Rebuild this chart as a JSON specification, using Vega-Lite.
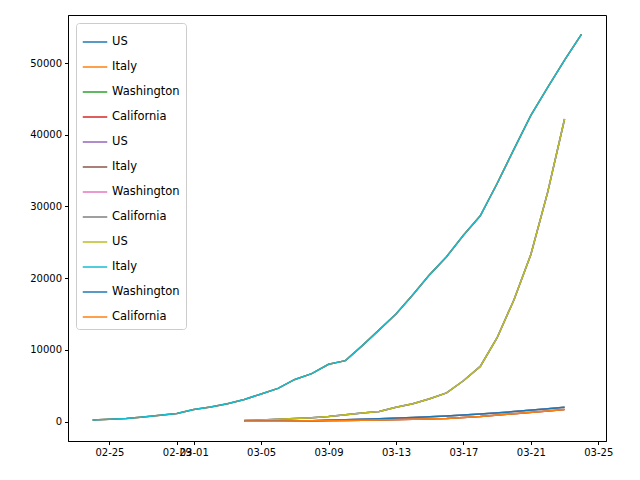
{
  "$schema": "https://vega.github.io/schema/vega-lite/v6.json",
  "width": 538,
  "height": 426,
  "autosize": "none",
  "padding": {"left": 68, "top": 15, "right": 34, "bottom": 39},
  "background": "white",
  "config": {
    "view": {"stroke": "black", "strokeWidth": 1},
    "font": "DejaVu Sans",
    "axis": {"grid": false, "domainColor": "black", "tickColor": "black", "labelColor": "black", "labelFontSize": 10, "tickSize": 3.5, "labelPadding": 3, "title": null}
  },
  "data": {
    "values": [
      {"country": "Italy", "k": ["b","f","j"], "date": "2020-02-24", "cases": 229},
      {"country": "Italy", "k": ["b","f","j"], "date": "2020-02-25", "cases": 322},
      {"country": "Italy", "k": ["b","f","j"], "date": "2020-02-26", "cases": 453},
      {"country": "Italy", "k": ["b","f","j"], "date": "2020-02-27", "cases": 655},
      {"country": "Italy", "k": ["b","f","j"], "date": "2020-02-28", "cases": 888},
      {"country": "Italy", "k": ["b","f","j"], "date": "2020-02-29", "cases": 1128},
      {"country": "Italy", "k": ["b","f","j"], "date": "2020-03-01", "cases": 1694},
      {"country": "Italy", "k": ["b","f","j"], "date": "2020-03-02", "cases": 2036},
      {"country": "Italy", "k": ["b","f","j"], "date": "2020-03-03", "cases": 2502},
      {"country": "Italy", "k": ["b","f","j"], "date": "2020-03-04", "cases": 3089},
      {"country": "Italy", "k": ["b","f","j"], "date": "2020-03-05", "cases": 3858},
      {"country": "Italy", "k": ["b","f","j"], "date": "2020-03-06", "cases": 4636},
      {"country": "Italy", "k": ["b","f","j"], "date": "2020-03-07", "cases": 5883},
      {"country": "Italy", "k": ["b","f","j"], "date": "2020-03-08", "cases": 6700},
      {"country": "Italy", "k": ["b","f","j"], "date": "2020-03-09", "cases": 8000},
      {"country": "Italy", "k": ["b","f","j"], "date": "2020-03-10", "cases": 8500},
      {"country": "Italy", "k": ["b","f","j"], "date": "2020-03-11", "cases": 10600},
      {"country": "Italy", "k": ["b","f","j"], "date": "2020-03-12", "cases": 12800},
      {"country": "Italy", "k": ["b","f","j"], "date": "2020-03-13", "cases": 15000},
      {"country": "Italy", "k": ["b","f","j"], "date": "2020-03-14", "cases": 17700},
      {"country": "Italy", "k": ["b","f","j"], "date": "2020-03-15", "cases": 20500},
      {"country": "Italy", "k": ["b","f","j"], "date": "2020-03-16", "cases": 23000},
      {"country": "Italy", "k": ["b","f","j"], "date": "2020-03-17", "cases": 26000},
      {"country": "Italy", "k": ["b","f","j"], "date": "2020-03-18", "cases": 28700},
      {"country": "Italy", "k": ["b","f","j"], "date": "2020-03-19", "cases": 33200},
      {"country": "Italy", "k": ["b","f","j"], "date": "2020-03-20", "cases": 38000},
      {"country": "Italy", "k": ["b","f","j"], "date": "2020-03-21", "cases": 42700},
      {"country": "Italy", "k": ["b","f","j"], "date": "2020-03-22", "cases": 46600},
      {"country": "Italy", "k": ["b","f","j"], "date": "2020-03-23", "cases": 50400},
      {"country": "Italy", "k": ["b","f","j"], "date": "2020-03-24", "cases": 54000},

      {"country": "US", "k": ["a","e","i"], "date": "2020-03-04", "cases": 150},
      {"country": "US", "k": ["a","e","i"], "date": "2020-03-05", "cases": 220},
      {"country": "US", "k": ["a","e","i"], "date": "2020-03-06", "cases": 320},
      {"country": "US", "k": ["a","e","i"], "date": "2020-03-07", "cases": 440},
      {"country": "US", "k": ["a","e","i"], "date": "2020-03-08", "cases": 540},
      {"country": "US", "k": ["a","e","i"], "date": "2020-03-09", "cases": 700},
      {"country": "US", "k": ["a","e","i"], "date": "2020-03-10", "cases": 950},
      {"country": "US", "k": ["a","e","i"], "date": "2020-03-11", "cases": 1200},
      {"country": "US", "k": ["a","e","i"], "date": "2020-03-12", "cases": 1400},
      {"country": "US", "k": ["a","e","i"], "date": "2020-03-13", "cases": 2000},
      {"country": "US", "k": ["a","e","i"], "date": "2020-03-14", "cases": 2500},
      {"country": "US", "k": ["a","e","i"], "date": "2020-03-15", "cases": 3200},
      {"country": "US", "k": ["a","e","i"], "date": "2020-03-16", "cases": 4000},
      {"country": "US", "k": ["a","e","i"], "date": "2020-03-17", "cases": 5700},
      {"country": "US", "k": ["a","e","i"], "date": "2020-03-18", "cases": 7700},
      {"country": "US", "k": ["a","e","i"], "date": "2020-03-19", "cases": 11700},
      {"country": "US", "k": ["a","e","i"], "date": "2020-03-20", "cases": 17000},
      {"country": "US", "k": ["a","e","i"], "date": "2020-03-21", "cases": 23300},
      {"country": "US", "k": ["a","e","i"], "date": "2020-03-22", "cases": 32000},
      {"country": "US", "k": ["a","e","i"], "date": "2020-03-23", "cases": 42200},

      {"country": "Washington", "k": ["c","g","k"], "date": "2020-03-04", "cases": 40},
      {"country": "Washington", "k": ["c","g","k"], "date": "2020-03-06", "cases": 80},
      {"country": "Washington", "k": ["c","g","k"], "date": "2020-03-08", "cases": 120},
      {"country": "Washington", "k": ["c","g","k"], "date": "2020-03-10", "cases": 270},
      {"country": "Washington", "k": ["c","g","k"], "date": "2020-03-12", "cases": 400},
      {"country": "Washington", "k": ["c","g","k"], "date": "2020-03-14", "cases": 570},
      {"country": "Washington", "k": ["c","g","k"], "date": "2020-03-16", "cases": 770},
      {"country": "Washington", "k": ["c","g","k"], "date": "2020-03-18", "cases": 1050},
      {"country": "Washington", "k": ["c","g","k"], "date": "2020-03-20", "cases": 1400},
      {"country": "Washington", "k": ["c","g","k"], "date": "2020-03-22", "cases": 1800},
      {"country": "Washington", "k": ["c","g","k"], "date": "2020-03-23", "cases": 2000},

      {"country": "California", "k": ["d","h","l"], "date": "2020-03-04", "cases": 50},
      {"country": "California", "k": ["d","h","l"], "date": "2020-03-06", "cases": 60},
      {"country": "California", "k": ["d","h","l"], "date": "2020-03-08", "cases": 110},
      {"country": "California", "k": ["d","h","l"], "date": "2020-03-10", "cases": 150},
      {"country": "California", "k": ["d","h","l"], "date": "2020-03-12", "cases": 220},
      {"country": "California", "k": ["d","h","l"], "date": "2020-03-14", "cases": 330},
      {"country": "California", "k": ["d","h","l"], "date": "2020-03-16", "cases": 450},
      {"country": "California", "k": ["d","h","l"], "date": "2020-03-18", "cases": 700},
      {"country": "California", "k": ["d","h","l"], "date": "2020-03-20", "cases": 1100},
      {"country": "California", "k": ["d","h","l"], "date": "2020-03-22", "cases": 1500},
      {"country": "California", "k": ["d","h","l"], "date": "2020-03-23", "cases": 1700}
    ]
  },
  "transform": [{"flatten": ["k"]}],
  "mark": {"type": "line", "strokeWidth": 1.5},
  "encoding": {
    "x": {
      "field": "date", "type": "temporal",
      "scale": {"type": "utc", "domain": [{"year": 2020, "month": 2, "date": 22, "hours": 13, "utc": true}, {"year": 2020, "month": 3, "date": 25, "hours": 11, "utc": true}]},
      "axis": {
        "labelExpr": "utcFormat(datum.value, '%m-%d')", "labelFlush": false, "labelOverlap": false,
        "values": [
          {"year": 2020, "month": 2, "date": 25, "utc": true},
          {"year": 2020, "month": 2, "date": 29, "utc": true},
          {"year": 2020, "month": 3, "date": 1, "utc": true},
          {"year": 2020, "month": 3, "date": 5, "utc": true},
          {"year": 2020, "month": 3, "date": 9, "utc": true},
          {"year": 2020, "month": 3, "date": 13, "utc": true},
          {"year": 2020, "month": 3, "date": 17, "utc": true},
          {"year": 2020, "month": 3, "date": 21, "utc": true},
          {"year": 2020, "month": 3, "date": 25, "utc": true}
        ]
      }
    },
    "y": {
      "field": "cases", "type": "quantitative",
      "scale": {"domain": [-2700, 56700], "nice": false, "zero": false},
      "axis": {"values": [0, 10000, 20000, 30000, 40000, 50000], "format": "d"}
    },
    "color": {
      "field": "k", "type": "nominal",
      "scale": {
        "domain": ["a","b","c","d","e","f","g","h","i","j","k","l"],
        "range": ["#1f77b4","#ff7f0e","#2ca02c","#d62728","#9467bd","#8c564b","#e377c2","#7f7f7f","#bcbd22","#17becf","#1f77b4","#ff7f0e"]
      },
      "legend": {
        "title": null, "orient": "top-left", "offset": 8,
        "symbolType": "stroke", "symbolStrokeWidth": 1.5, "symbolSize": 600,
        "labelFontSize": 11.5, "labelColor": "black", "rowPadding": 6,
        "strokeColor": "#cccccc", "fillColor": "white", "cornerRadius": 3, "padding": 6,
        "labelExpr": "({'a':'US','b':'Italy','c':'Washington','d':'California','e':'US','f':'Italy','g':'Washington','h':'California','i':'US','j':'Italy','k':'Washington','l':'California'})[datum.value]"
      }
    }
  }
}
